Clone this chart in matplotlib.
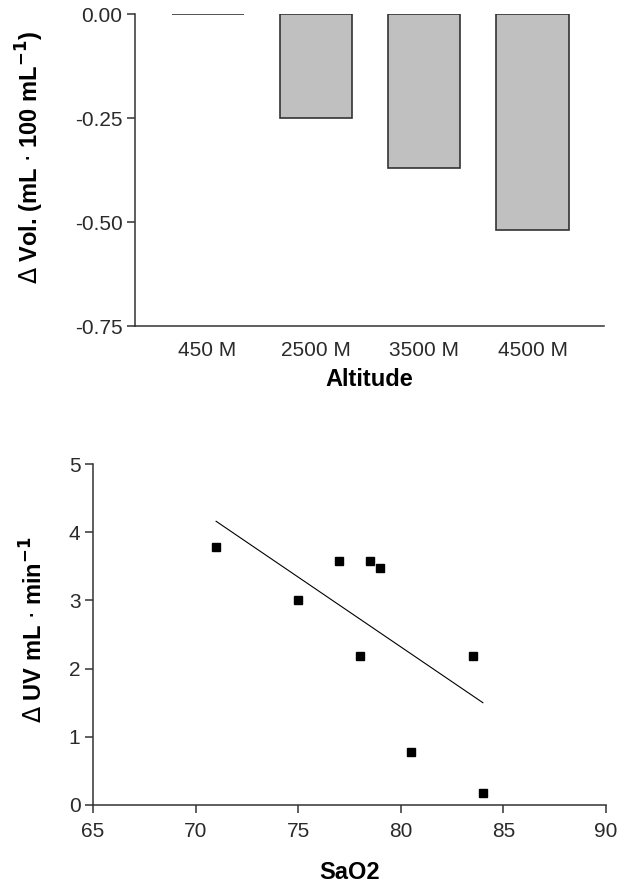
import matplotlib

matplotlib.use("Agg")

import matplotlib.pyplot as plt

plt.rcParams["font.family"] = ["Liberation Sans", "DejaVu Sans"]

# top panel: change in volume by altitude
altitudes = ["450 M", "2500 M", "3500 M", "4500 M"]
delta_vol = [0.0, -0.25, -0.37, -0.52]
vol_ticks = [0.0, -0.25, -0.50, -0.75]

# bottom panel: change in UV vs SaO2
sao2 = [71.0, 75.0, 77.0, 78.5, 79.0, 78.0, 83.5, 80.5, 84.0]
delta_uv = [3.78, 3.0, 3.58, 3.58, 3.48, 2.18, 2.18, 0.78, 0.18]
fit_x = [71.0, 84.0]
fit_y = [4.16, 1.50]

AXIS_COLOR = "#333333"
TICK_COLOR = "#2a2a2a"
BAR_COLOR = "#c0c0c0"

W, H = 624, 886
fig = plt.figure(figsize=(W / 100, H / 100), dpi=100)
fig.patch.set_facecolor("white")


def px_axes(left, right, top, bottom):
    return fig.add_axes([left / W, 1 - bottom / H, (right - left) / W, (bottom - top) / H])


def style(ax):
    for side in ("top", "right"):
        ax.spines[side].set_visible(False)
    for side in ("left", "bottom"):
        ax.spines[side].set_color(AXIS_COLOR)
        ax.spines[side].set_linewidth(1.1)
    ax.tick_params(colors=AXIS_COLOR, labelcolor=TICK_COLOR, labelsize=15,
                   width=1.1, length=6)


# ---- top: bars
ax1 = px_axes(135, 604, 14, 326)
xs = range(len(altitudes))
ax1.bar(xs, delta_vol, width=0.665, color=BAR_COLOR, edgecolor=AXIS_COLOR,
        linewidth=1.2, zorder=2)
ax1.set_xlim(-0.67, 3.66)
ax1.set_ylim(-0.75, 0.0)
ax1.set_yticks(vol_ticks)
ax1.set_yticklabels([f"{v:.2f}" for v in vol_ticks])
ax1.set_xticks(list(xs))
ax1.set_xticklabels(altitudes)
style(ax1)
ax1.tick_params(axis="x", length=0, pad=11)
ax1.tick_params(axis="y", pad=3)
ax1.set_xlabel("Altitude", fontsize=17, fontweight="bold")
ax1.xaxis.set_label_coords(0.5, -0.135)
ax1.set_ylabel(r"$\Delta$ Vol. (mL $\cdot$ 100 mL$^{\mathbf{-1}}$)", fontsize=17,
               fontweight="bold")
ax1.yaxis.set_label_coords(-0.19, 0.54)

# ---- bottom: scatter with fit line
ax2 = px_axes(93, 606, 464, 805)
ax2.plot(sao2, delta_uv, "s", color="black", markersize=5.2, zorder=3)
ax2.plot(fit_x, fit_y, color="black", linewidth=0.8, zorder=2)
ax2.set_xlim(65, 90)
ax2.set_ylim(0, 5)
ax2.set_xticks([65, 70, 75, 80, 85, 90])
ax2.set_yticks([0, 1, 2, 3, 4, 5])
style(ax2)
ax2.tick_params(axis="x", pad=6)
ax2.tick_params(axis="y", pad=3)
ax2.set_xlabel("SaO2", fontsize=17, fontweight="bold")
ax2.xaxis.set_label_coords(0.5, -0.163)
ax2.set_ylabel(r"$\Delta$ UV mL $\cdot$ min$^{\mathbf{-1}}$", fontsize=17,
               fontweight="bold")
ax2.yaxis.set_label_coords(-0.088, 0.513)

fig.savefig("out.png", dpi=100, facecolor="white")
